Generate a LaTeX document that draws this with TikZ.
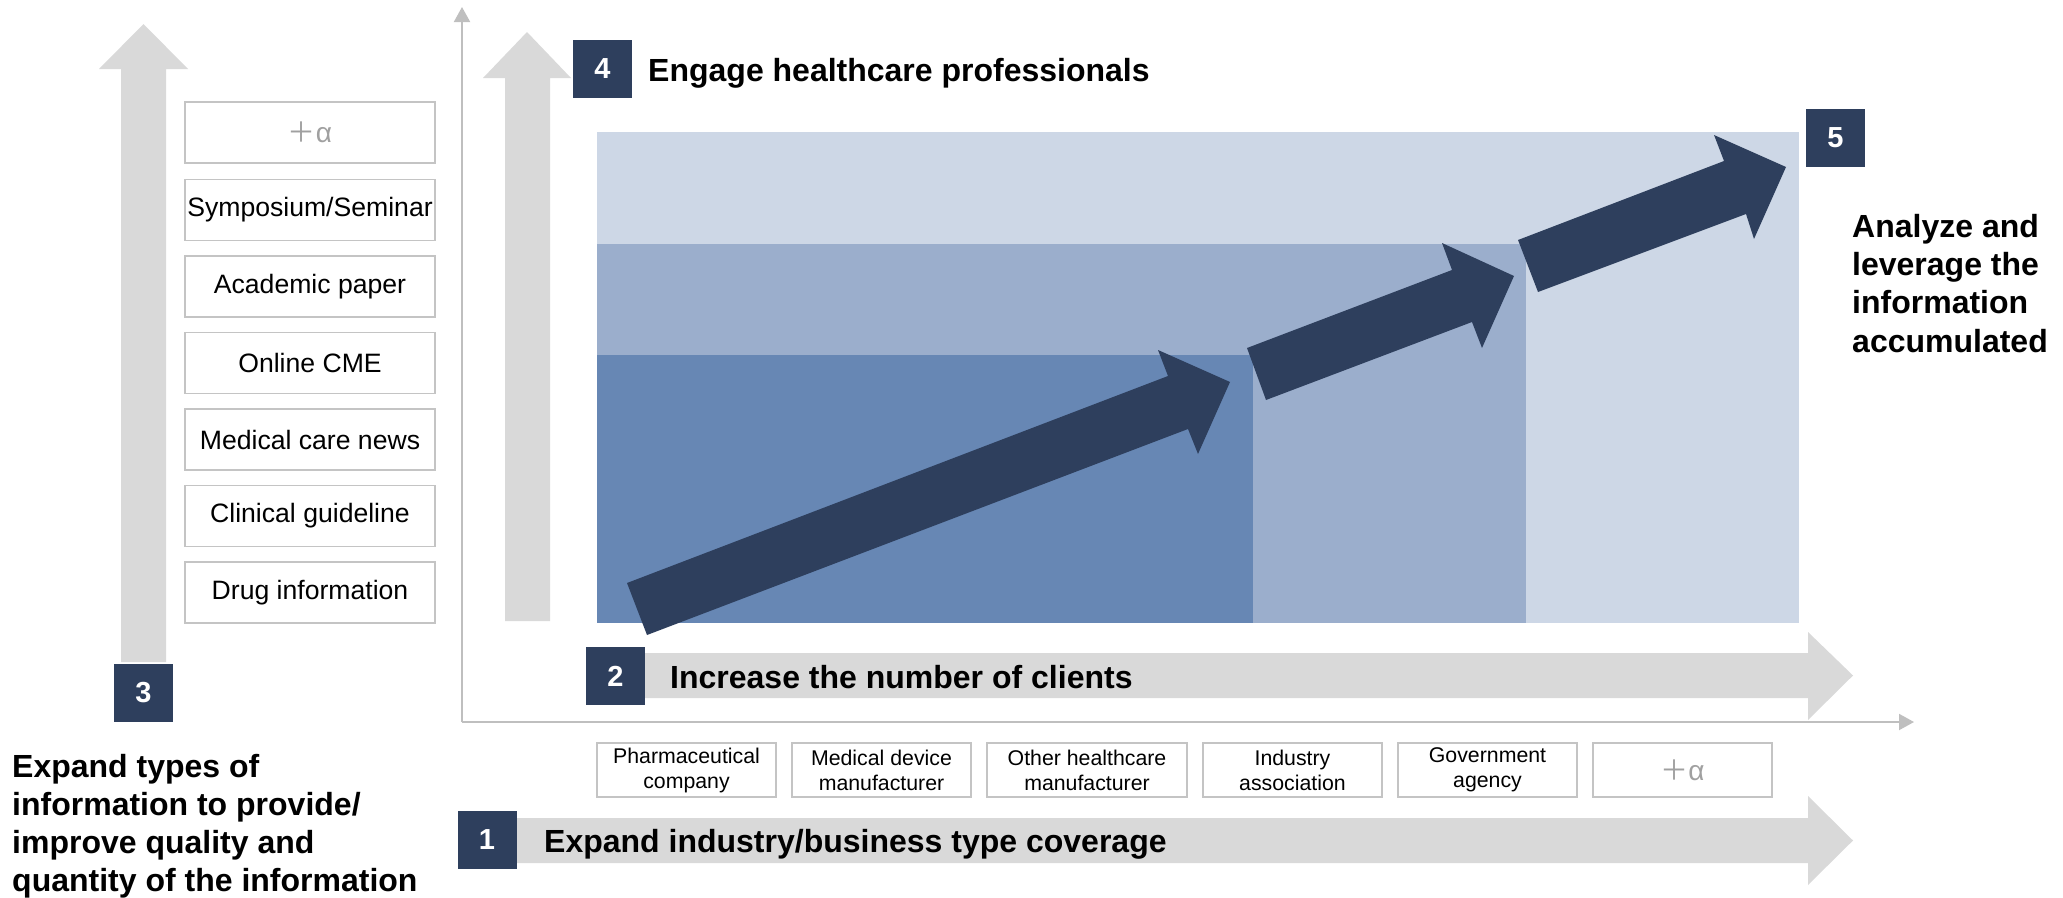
\documentclass[tikz,border=0pt]{standalone}
\usepackage{fontspec}
\setmainfont{Liberation Sans}
\newfontfamily\cjk{Noto Sans CJK JP}
\usetikzlibrary{arrows.meta}
\definecolor{navy}{HTML}{2E3F5D}
\definecolor{blueA}{HTML}{6787B4}
\definecolor{blueB}{HTML}{9BAECC}
\definecolor{blueC}{HTML}{CDD7E6}
\definecolor{grayarrow}{HTML}{D9D9D9}
\definecolor{axisc}{HTML}{BFBFBF}
\definecolor{boxc}{HTML}{C4C4C4}
\definecolor{alphac}{HTML}{A0A0A0}
\begin{document}
\begin{tikzpicture}[x=1pt,y=-1pt,
  grayarr/.style={fill=grayarrow,draw=none},
  navyarr/.style={fill=navy,draw=none},
  numbox/.style={fill=navy,text=white,minimum width=59pt,minimum height=58pt,inner sep=0pt,font=\bfseries\fontsize{29}{32}\selectfont},
  listbox/.style={draw=boxc,line width=1.5pt,minimum width=250pt,minimum height=61pt,inner sep=0pt,font=\fontsize{26.6}{30}\selectfont},
  clientbox/.style={draw=boxc,line width=1.5pt,minimum height=54pt,inner sep=0pt,align=center,font=\fontsize{21.3}{25}\selectfont},
  alphatext/.style={text=alphac,font=\fontsize{28}{30}\selectfont},
  heading/.style={inner sep=0pt,anchor=base west,font=\bfseries\fontsize{32}{38.4}\selectfont},
  axis/.style={draw=axisc,line width=2pt,-{Triangle[length=15pt,width=16pt]}}
]
\useasboundingbox (0,0) rectangle (2063,897);
% gray arrows
\fill[grayarr] (121,662) -- (121,69) -- (99,69) -- (143.5,24) -- (188,69) -- (166,69) -- (166,662) -- cycle;
\fill[grayarr] (505,621) -- (505,78) -- (483,78) -- (527,32) -- (571,78) -- (550,78) -- (550,621) -- cycle;
\fill[grayarr] (640,653) -- (1808,653) -- (1808,632) -- (1853,675.5) -- (1808,720) -- (1808,698) -- (640,698) -- cycle;
\fill[grayarr] (512,818) -- (1808,818) -- (1808,796) -- (1853,840.5) -- (1808,885) -- (1808,863) -- (512,863) -- cycle;
% stepped areas
\fill[blueC] (597,132) rectangle (1799,623);
\fill[blueB] (597,244) rectangle (1526,623);
\fill[blueA] (597,355) rectangle (1253,623);
% navy arrows
\fill[navyarr] (627,583) -- (1168,376) -- (1158,350) -- (1230,382) -- (1198,454) -- (1188,429) -- (647,635) -- cycle;
\fill[navyarr] (1247,348) -- (1452,270) -- (1442,243) -- (1514,276) -- (1482,348) -- (1472,322) -- (1266,400) -- cycle;
\fill[navyarr] (1518,240) -- (1724,161) -- (1714,135) -- (1786,167) -- (1754,239) -- (1746,214) -- (1538,292) -- cycle;
% axes
\coordinate (O) at (462,722);
\coordinate (xend) at (1914,722);
\coordinate (yend) at (462,7);
\draw[axis] (O) -- (yend);
\draw[axis] (O) -- (xend);
% number boxes
\node[numbox] (n1) at (487,840) {1};
\node[numbox] (n2) at (615.5,676) {2};
\node[numbox] (n3) at (143.5,693) {3};
\node[numbox] (n4) at (602.5,68.5) {4};
\node[numbox] (n5) at (1835.5,138) {5};
% headings
\node[heading] (h4) at (648,81) {Engage healthcare professionals};
\node[heading] (h2) at (670,688) {Increase the number of clients};
\node[heading] (h1) at (544,852) {Expand industry/business type coverage};
\node[heading] (h3a) at (12,777) {Expand types of};
\node[heading] (h3b) at (12,815) {information to provide/};
\node[heading] (h3c) at (12,853) {improve quality and};
\node[heading] (h3d) at (12,891) {quantity of the information};
\node[heading] (h5a) at (1852,237) {Analyze and};
\node[heading] (h5b) at (1852,275) {leverage the};
\node[heading] (h5c) at (1852,313) {information};
\node[heading] (h5d) at (1852,352) {accumulated};
% list boxes
\node[listbox,alphatext] (L7) at (310,132.5) {{\cjk ＋}α};
\node[listbox] (L6) at (310,210) {Symposium/Seminar};
\node[listbox] (L5) at (310,286.5) {Academic paper};
\node[listbox] (L4) at (310,363) {Online CME};
\node[listbox] (L3) at (310,439.5) {Medical care news};
\node[listbox] (L2) at (310,516) {Clinical guideline};
\node[listbox] (L1) at (310,592.5) {Drug information};
% client boxes
\node[clientbox,minimum width=179pt] (c1) at (686.5,770) {Pharmaceutical\\company};
\node[clientbox,minimum width=179pt] (c2) at (881.5,770) {Medical device\\manufacturer};
\node[clientbox,minimum width=200pt] (c3) at (1087,770) {Other healthcare\\manufacturer};
\node[clientbox,minimum width=179pt] (c4) at (1292.5,770) {Industry\\association};
\node[clientbox,minimum width=179pt] (c5) at (1487.5,770) {Government\\agency};
\node[clientbox,minimum width=179pt,alphatext] (c6) at (1682.5,770) {{\cjk ＋}α};
\end{tikzpicture}
\end{document}
